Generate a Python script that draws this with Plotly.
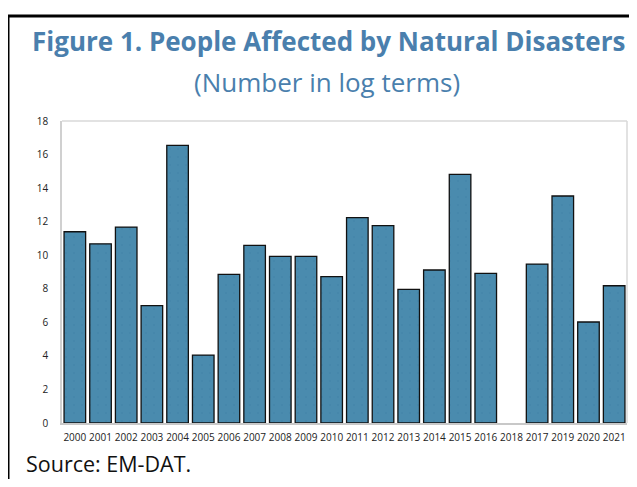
import plotly.graph_objects as go

years = ["2000", "2001", "2002", "2003", "2004", "2005", "2006", "2007", "2008",
         "2009", "2010", "2011", "2012", "2013", "2014", "2015", "2016", "2018",
         "2017", "2019", "2020", "2021"]
values = [11.4, 10.68, 11.68, 6.99, 16.55, 4.05, 8.86, 10.59, 9.93,
          9.93, 8.72, 12.24, 11.76, 7.97, 9.12, 14.82, 8.92, None,
          9.47, 13.53, 6.02, 8.18]
y_ticks = [0, 2, 4, 6, 8, 10, 12, 14, 16, 18]

OFF = 8  # page body margin
VIS_RIGHT = 629  # visible right edge of page
W, H = VIS_RIGHT - OFF, 487 - 2 * OFF
L, T = 62 - OFF, 121 - OFF
R = W - (627 - OFF)
B = H - (423 - OFF)
pw, ph = W - L - R, H - T - B

def px(x):
    return (x - OFF - L) / pw

def py(y):
    return (H - B - (y - OFF)) / ph

fig = go.Figure()
fig.add_trace(go.Bar(
    x=years, y=values,
    marker=dict(color="#4a8bae", line=dict(color="#111111", width=1.3),
                pattern=dict(shape=".", fgcolor="#4282a8", size=8, solidity=0.08)),
    width=0.84,
))

title_color = "#4a7fad"
fig.update_layout(
    width=W, height=H,
    margin=dict(l=L, r=R, t=T, b=B),
    paper_bgcolor="white", plot_bgcolor="white",
    font=dict(family="Open Sans", color="#222222"),
    showlegend=False,
    xaxis=dict(type="category", showgrid=False, showline=True, linecolor="#c8c8c8",
               linewidth=2, mirror=False, ticks="", tickfont=dict(size=10, color="#222222"),
               ticklabelstandoff=4),
    yaxis=dict(range=[0, 18], tickvals=y_ticks, showgrid=False, showline=True,
               linecolor="#d0d0d0", linewidth=1.5, ticks="", zeroline=False,
               tickfont=dict(size=10, color="#222222"), ticklabelstandoff=10),
    shapes=[
        dict(type="line", xref="paper", yref="paper", x0=0, x1=1, y0=1, y1=1,
             line=dict(color="#d9d9d9", width=1.5)),
        dict(type="line", xref="paper", yref="paper", x0=1, x1=1, y0=0, y1=1,
             line=dict(color="#d9d9d9", width=1.5)),
        dict(type="line", xref="paper", yref="paper", x0=px(8), x1=px(645), y0=py(16), y1=py(16),
             line=dict(color="black", width=3)),
        dict(type="line", xref="paper", yref="paper", x0=px(8), x1=px(8), y0=py(16), y1=py(495),
             line=dict(color="black", width=3)),
    ],
    annotations=[
        dict(text="<b>Figure 1. People Affected by Natural Disasters</b>", xref="paper", yref="paper",
             x=px(328), y=py(41), xanchor="center", yanchor="middle", showarrow=False,
             font=dict(size=26, color=title_color, family="Open Sans")),
        dict(text="(Number in log terms)", xref="paper", yref="paper",
             x=px(327), y=py(82), xanchor="center", yanchor="middle", showarrow=False,
             font=dict(size=26, color=title_color, family="Open Sans")),
        dict(text="Source: EM-DAT.", xref="paper", yref="paper",
             x=px(24), y=py(463), xanchor="left", yanchor="middle", showarrow=False,
             font=dict(size=21.5, color="#111111", family="Open Sans")),
    ],
)

fig.write_html("out.html")
